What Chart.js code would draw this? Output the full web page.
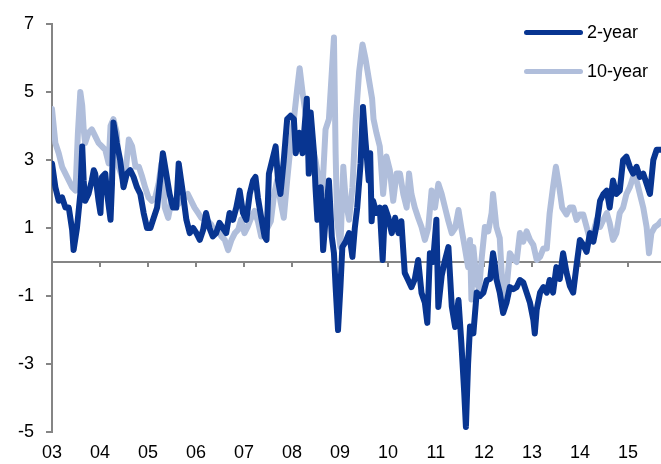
<!DOCTYPE html>
<html>
<head>
<meta charset="utf-8">
<script src="https://cdn.jsdelivr.net/npm/chart.js@4.4.1/dist/chart.umd.min.js"></script>
<style>
  body { margin: 0; background: #fff; }
  #wrap { position: relative; width: 661px; height: 464px; }
  .leg { position: absolute; left: 524px; font: 18px "Liberation Sans", Arial, sans-serif; color: #000; display: flex; align-items: center; }
  .leg span.sw { display: inline-block; width: 59px; height: 5px; border-radius: 3px; margin-right: 4px; }
</style>
</head>
<body>
<div id="wrap">
  <canvas id="grafico" width="661" height="464"></canvas>
  <div class="leg" style="top:22px"><span class="sw" style="background:#083591"></span>2-year</div>
  <div class="leg" style="top:61px"><span class="sw" style="background:#b0bedb"></span>10-year</div>
</div>
<script>
// 2-year series (year as decimal, value)
const twoYearX = [2003.00, 2003.07, 2003.14, 2003.21, 2003.28, 2003.35, 2003.42, 2003.45, 2003.52, 2003.59, 2003.63, 2003.66, 2003.69, 2003.76, 2003.83, 2003.87, 2003.90, 2003.97, 2004.01, 2004.04, 2004.11, 2004.15, 2004.22, 2004.25, 2004.28, 2004.35, 2004.42, 2004.49, 2004.56, 2004.63, 2004.70, 2004.77, 2004.84, 2004.91, 2004.98, 2005.05, 2005.12, 2005.19, 2005.26,
  2005.31, 2005.38, 2005.45, 2005.52, 2005.59, 2005.64, 2005.69, 2005.73, 2005.80, 2005.87, 2005.94, 2006.01, 2006.08, 2006.15, 2006.21, 2006.28, 2006.35, 2006.42, 2006.49, 2006.56, 2006.63, 2006.70, 2006.77, 2006.84, 2006.91, 2006.98, 2007.05, 2007.12, 2007.19, 2007.24, 2007.29, 2007.36, 2007.43,
  2007.47, 2007.52, 2007.59, 2007.66, 2007.71, 2007.76, 2007.83, 2007.90, 2007.97, 2008.04, 2008.08, 2008.15, 2008.22, 2008.31, 2008.35, 2008.39, 2008.46, 2008.49, 2008.53, 2008.60, 2008.65, 2008.72, 2008.77, 2008.83, 2008.875, 2008.91, 2008.96, 2009.01, 2009.05, 2009.12, 2009.19, 2009.26, 2009.31, 2009.36, 2009.43, 2009.48, 2009.53, 2009.60, 2009.63, 2009.66,
  2009.69, 2009.76, 2009.83, 2009.89, 2009.94, 2010.01, 2010.08, 2010.15, 2010.22, 2010.28, 2010.35, 2010.42, 2010.49, 2010.56, 2010.63, 2010.70, 2010.77, 2010.82, 2010.875, 2010.94, 2011.01, 2011.05, 2011.12, 2011.19, 2011.26, 2011.33, 2011.40, 2011.47, 2011.53, 2011.59, 2011.625, 2011.67,
  2011.71, 2011.78, 2011.85, 2011.92, 2011.99, 2012.06, 2012.13, 2012.19, 2012.23, 2012.26, 2012.33, 2012.40, 2012.47, 2012.54, 2012.61, 2012.68, 2012.75, 2012.82, 2012.89, 2012.96, 2013.03, 2013.06, 2013.10, 2013.17, 2013.24, 2013.31, 2013.37, 2013.44, 2013.51, 2013.58, 2013.65, 2013.72,
  2013.79, 2013.86, 2013.93, 2014.00, 2014.07, 2014.14, 2014.21, 2014.28, 2014.35, 2014.42, 2014.49, 2014.56, 2014.62, 2014.69, 2014.76, 2014.83, 2014.90, 2014.97, 2015.04, 2015.11, 2015.18, 2015.25, 2015.32, 2015.39, 2015.46, 2015.53, 2015.60, 2015.69];
const twoYearY = [2.9, 2.2, 1.8, 1.9, 1.6, 1.6, 0.94, 0.35, 1.0, 2.0, 3.4, 2.4, 1.8, 2.0, 2.4, 2.7, 2.6, 1.8, 1.44, 2.5, 2.6, 2.0, 1.24, 2.3, 4.1, 3.5, 3.0, 2.2, 2.6, 2.7, 2.5, 2.2, 2.0, 1.44, 1.0, 1.0, 1.3, 1.6, 2.5,
  3.2, 2.6, 2.0, 1.6, 1.6, 2.9, 2.4, 2.0, 1.24, 0.85, 1.0, 0.85, 0.65, 0.95, 1.44, 1.0, 0.75, 0.85, 1.15, 1.0, 0.85, 1.44, 1.24, 1.6, 2.1, 1.44, 1.24, 2.0, 2.4, 2.5, 1.9, 1.3, 0.75,
  0.65, 2.6, 3.0, 3.4, 2.4, 2.0, 3.0, 4.2, 4.3, 4.2, 3.2, 3.8, 3.2, 4.8, 2.6, 4.4, 3.2, 2.2, 1.24, 2.2, 0.35, 1.6, 2.4, 0.74, 0.26, -0.74, -2.0, -0.74, 0.44, 0.6, 0.85, 0.15, 1.0, 1.6, 2.9, 4.56, 3.6, 2.4, 3.2, 1.2,
  1.8, 1.44, 1.6, 0.06, 1.6, 1.3, 0.85, 1.3, 0.85, 1.2, -0.32, -0.53, -0.74, -0.5, 0.06, -0.91, -1.2, -1.79, 0.26, 0.0, 1.24, -1.32, -0.4, 0.06, 0.44, -1.3, -1.91, -1.12, -2.38, -3.85, -4.85, -3.0,
  -1.9, -2.1, -0.9, -1.0, -0.9, -0.53, -0.5, 0.26, -0.1, -0.5, -0.9, -1.5, -1.2, -0.74, -0.8, -0.74, -0.53, -0.6, -0.9, -1.2, -1.7, -2.1, -1.4, -0.9, -0.74, -0.9, -0.53, -0.9, -0.15, -0.5, 0.26, -0.3,
  -0.7, -0.9, -0.1, 0.65, 0.5, 0.3, 0.85, 0.6, 1.1, 1.8, 2.0, 2.1, 1.6, 2.4, 2.0, 2.1, 3.0, 3.1, 2.8, 2.6, 2.8, 2.5, 2.6, 2.3, 2.0, 3.0, 3.3, 3.3];

// 10-year series
const tenYearX = [2003.00, 2003.07, 2003.14, 2003.21, 2003.28, 2003.35, 2003.42, 2003.49, 2003.54, 2003.59, 2003.63, 2003.66, 2003.69, 2003.76, 2003.83, 2003.90, 2003.97, 2004.04, 2004.11, 2004.18, 2004.22, 2004.28, 2004.35, 2004.39, 2004.46, 2004.53, 2004.60, 2004.67, 2004.74, 2004.81, 2004.88, 2004.94, 2005.01, 2005.08, 2005.15, 2005.22,
  2005.28, 2005.35, 2005.42, 2005.49, 2005.56, 2005.63, 2005.69, 2005.76, 2005.83, 2005.90, 2005.97, 2006.04, 2006.11, 2006.18, 2006.25, 2006.32, 2006.39, 2006.46, 2006.53, 2006.60, 2006.67, 2006.74, 2006.81, 2006.88, 2006.94, 2007.01, 2007.08, 2007.15, 2007.22, 2007.29, 2007.36, 2007.43,
  2007.49, 2007.56, 2007.63, 2007.69, 2007.76, 2007.83, 2007.90, 2007.97, 2008.04, 2008.11, 2008.16, 2008.22, 2008.28, 2008.35, 2008.42, 2008.49, 2008.56, 2008.63, 2008.70, 2008.77, 2008.84, 2008.875, 2008.91, 2008.94, 2009.01, 2009.07, 2009.12, 2009.19, 2009.26, 2009.33, 2009.40, 2009.47, 2009.53, 2009.60, 2009.67,
  2009.70, 2009.76, 2009.83, 2009.90, 2009.97, 2010.04, 2010.11, 2010.18, 2010.25, 2010.32, 2010.39, 2010.44, 2010.49, 2010.56, 2010.63, 2010.70, 2010.77, 2010.84, 2010.91, 2010.98, 2011.05, 2011.12, 2011.19, 2011.26, 2011.33, 2011.40, 2011.47, 2011.53, 2011.60, 2011.67,
  2011.71, 2011.74, 2011.78, 2011.85, 2011.90, 2011.95, 2012.02, 2012.09, 2012.16, 2012.19, 2012.26, 2012.33, 2012.37, 2012.42, 2012.47, 2012.54, 2012.61, 2012.68, 2012.75, 2012.82, 2012.89, 2012.96, 2013.03, 2013.10, 2013.17, 2013.24, 2013.31, 2013.37, 2013.44, 2013.50, 2013.57, 2013.63,
  2013.72, 2013.79, 2013.86, 2013.93, 2014.00, 2014.07, 2014.14, 2014.21, 2014.28, 2014.35, 2014.42, 2014.49, 2014.56, 2014.62, 2014.69, 2014.76, 2014.83, 2014.90, 2014.97, 2015.04, 2015.11, 2015.18, 2015.25, 2015.32, 2015.39, 2015.44, 2015.49, 2015.56, 2015.63, 2015.69];
const tenYearY = [4.5, 3.5, 3.2, 2.8, 2.6, 2.4, 2.2, 2.1, 3.8, 5.0, 4.6, 3.9, 3.5, 3.8, 3.9, 3.7, 3.5, 3.4, 3.3, 2.9, 4.0, 4.2, 3.8, 2.8, 2.5, 2.6, 3.6, 3.4, 2.8, 2.8, 2.5, 2.2, 1.9, 1.8, 1.9, 2.3,
  2.9, 1.6, 1.3, 1.8, 1.8, 1.7, 1.8, 1.9, 2.0, 1.8, 1.6, 1.45, 1.3, 1.25, 1.2, 1.1, 0.85, 0.95, 0.75, 0.65, 0.35, 0.65, 0.85, 0.95, 1.25, 0.85, 1.05, 1.3, 1.5, 1.2, 0.75, 0.9,
  1.0, 1.2, 2.0, 2.4, 1.8, 1.3, 2.4, 3.4, 4.2, 5.1, 5.7, 5.0, 4.4, 3.9, 3.4, 3.0, 2.4, 2.0, 3.9, 4.2, 5.8, 6.6, 3.2, 1.24, 0.44, 2.8, 1.8, 1.24, 2.2, 4.2, 5.6, 6.4, 6.0, 5.4, 4.8,
  4.2, 3.8, 3.4, 2.0, 3.1, 2.7, 1.8, 2.6, 2.6, 2.0, 1.6, 2.6, 2.0, 1.6, 1.3, 1.03, 0.65, 1.0, 2.1, 1.6, 2.3, 2.0, 1.6, 1.2, 0.85, 1.0, 1.53, 1.0, 0.44, -0.15,
  0.65, -1.1, 0.44, -0.6, -0.8, 0.06, 1.03, 0.9, 1.44, 2.0, 1.03, 0.7, -0.32, -1.3, -0.8, 0.26, 0.1, 0.0, 0.85, 0.6, 0.9, 0.65, 0.5, 0.06, 0.15, 0.4, 0.4, 1.44, 2.2, 2.8, 2.2, 1.6,
  1.4, 1.6, 1.6, 1.24, 1.4, 1.4, 1.03, 0.65, 0.85, 1.24, 1.03, 1.24, 1.44, 1.15, 0.65, 0.85, 1.44, 1.6, 2.0, 2.2, 2.5, 2.4, 2.0, 1.6, 1.03, 0.26, 0.85, 1.03, 1.1, 1.2];

const yearTicks = [2003, 2004, 2005, 2006, 2007, 2008, 2009, 2010, 2011, 2012, 2013, 2014, 2015];

const pares = (xs, ys) => xs.map((x, i) => ({ x: x, y: ys[i] }));

const gris = '#858585';

// linea en cero con marcas de anio
const lineaCero = {
  id: 'lineaCero',
  beforeDatasetsDraw(chart) {
    const ctx = chart.ctx;
    const xs = chart.scales.x, ys = chart.scales.y;
    const y0 = ys.getPixelForValue(0);
    ctx.save();
    ctx.strokeStyle = gris;
    ctx.lineWidth = 2;
    ctx.beginPath();
    ctx.moveTo(chart.chartArea.left, y0);
    ctx.lineTo(chart.chartArea.right, y0);
    yearTicks.slice(1).forEach(yr => {
      const px = Math.round(xs.getPixelForValue(yr));
      ctx.moveTo(px, y0);
      ctx.lineTo(px, y0 + 5);
    });
    ctx.stroke();
    ctx.restore();
  }
};

const fuente = { family: '"Liberation Sans", Arial, sans-serif', size: 18 };

new Chart(document.getElementById('grafico').getContext('2d'), {
  type: 'line',
  data: {
    datasets: [{
      label: '2-year',
      data: pares(twoYearX, twoYearY),
      borderColor: '#083591',
      borderWidth: 6,
      order: 1
    }, {
      label: '10-year',
      data: pares(tenYearX, tenYearY),
      borderColor: '#b0bedb',
      borderWidth: 6,
      order: 2
    }]
  },
  options: {
    responsive: false,
    animation: false,
    devicePixelRatio: 1,
    layout: { padding: { top: 24, right: 0, left: 0, bottom: 0 } },
    elements: {
      point: { radius: 0 },
      line: { tension: 0, borderJoinStyle: 'round', borderCapStyle: 'round' }
    },
    plugins: { legend: { display: false }, tooltip: { enabled: false } },
    scales: {
      x: {
        type: 'linear',
        min: 2003,
        max: 2015.69,
        grid: { display: false, drawTicks: false },
        border: { display: false },
        afterFit: s => { s.height = 32; },
        ticks: {
          stepSize: 1,
          includeBounds: false,
          autoSkip: false,
          maxRotation: 0,
          padding: 10,
          color: '#000',
          font: fuente,
          callback: v => String(v % 100).padStart(2, '0')
        }
      },
      y: {
        min: -5,
        max: 7,
        afterFit: s => { s.width = 52; },
        grid: { drawOnChartArea: false, drawTicks: true, tickLength: 6, color: gris, lineWidth: 2 },
        border: { display: true, color: gris, width: 2 },
        ticks: { stepSize: 2, padding: 12, color: '#000', font: fuente }
      }
    }
  },
  plugins: [lineaCero]
});
</script>
</body>
</html>
